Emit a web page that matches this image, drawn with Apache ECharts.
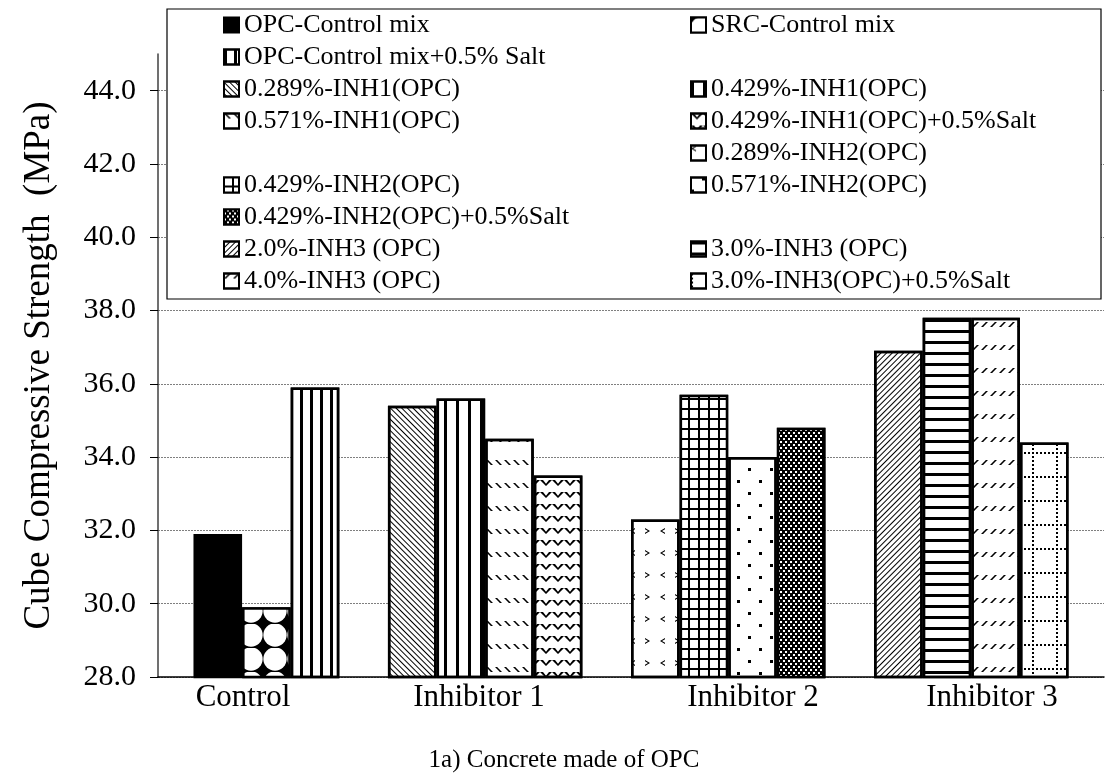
<!DOCTYPE html>
<html>
<head>
<meta charset="utf-8">
<script src="https://cdn.jsdelivr.net/npm/echarts@6/dist/echarts.min.js"></script>
<style>
  html, body { margin: 0; padding: 0; background: #fff; }
  #chart { width: 1113px; height: 778px; }
</style>
</head>
<body>
<div id="chart"></div>
<script>
// group labels under the bars
const groups = ['Control', 'Inhibitor 1', 'Inhibitor 2', 'Inhibitor 3'];

// one series per mix, blanks are the spacer slots between groups
const mixNames = [
  'OPC-Control mix', 'SRC-Control mix', 'OPC-Control mix+0.5% Salt', ' ',
  '0.289%-INH1(OPC)', '0.429%-INH1(OPC)', '0.571%-INH1(OPC)', '0.429%-INH1(OPC)+0.5%Salt', '  ',
  '0.289%-INH2(OPC)', '0.429%-INH2(OPC)', '0.571%-INH2(OPC)', '0.429%-INH2(OPC)+0.5%Salt', '   ',
  '2.0%-INH3 (OPC)', '3.0%-INH3 (OPC)', '4.0%-INH3 (OPC)', '3.0%-INH3(OPC)+0.5%Salt'
];

// cube compressive strength, MPa
const strength = [
  31.9, 29.9, 35.9, null,
  35.4, 35.6, 34.5, 33.5, null,
  32.3, 35.7, 34.0, 34.8, null,
  36.9, 37.8, 37.8, 34.4
];

const serif = '"Liberation Serif", "Times New Roman", serif';

// hatch patterns, one per mix (null = spacer)
const dec = (o) => Object.assign({ color: '#000', symbol: 'rect', symbolSize: 1, symbolKeepAspect: false }, o);
const fills = [
  { color: '#000' },
  { color: '#000', decal: dec({ symbol: 'circle', color: '#fff', dashArrayX: [[22, 2]], dashArrayY: [22, 2], symbolSize: 1.06 }) },
  { color: '#fff', decal: dec({ dashArrayX: [[3, 7]], dashArrayY: [10, 0] }) },
  null,
  { color: '#fff', decal: dec({ dashArrayX: [[10, 0]], dashArrayY: [1, 3], rotation: Math.PI / 4 }) },
  { color: '#fff', decal: dec({ dashArrayX: [[3, 9]], dashArrayY: [10, 0] }) },
  { color: '#fff', decal: dec({ symbol: 'path://M0,0L3,0L10,10L7,10Z', dashArrayX: [[7, 2]], dashArrayY: [5, 18] }) },
  { color: '#fff', decal: dec({ symbol: 'path://M0,0L2.5,0L5,5L7.5,0L10,0L5,8Z', dashArrayX: [[12, 0]], dashArrayY: [6, 6] }) },
  null,
  { color: '#fff', decal: dec({ symbol: ['path://M10,0L0,5L10,10L10,8L4,5L10,2Z', 'path://M0,0L10,5L0,10L0,8L6,5L0,2Z'], dashArrayX: [[5, 10]], dashArrayY: [6, 16] }) },
  { color: '#000', decal: dec({ color: '#fff', dashArrayX: [[8, 2]], dashArrayY: [8, 2] }) },
  { color: '#fff', decal: dec({ dashArrayX: [[3, 19], [0, 11, 3, 8]], dashArrayY: [3, 9] }) },
  { color: '#000', decal: dec({ color: '#fff', dashArrayX: [[2, 3], [0, 3, 2, 0]], dashArrayY: [2, 1] }) },
  null,
  { color: '#fff', decal: dec({ dashArrayX: [[10, 0]], dashArrayY: [1, 3], rotation: -Math.PI / 4 }) },
  { color: '#fff', decal: dec({ dashArrayX: [[10, 0]], dashArrayY: [3, 8] }) },
  { color: '#fff', decal: dec({ symbol: 'path://M7,0L10,0L3,10L0,10Z', dashArrayX: [[7, 2]], dashArrayY: [5, 18] }) },
  { color: '#fff', decal: dec({ dashArrayX: [[2, 2], [2, 22], [2, 22], [2, 22], [2, 22], [2, 22]], dashArrayY: [2, 2] }) }
];

// x centre of each group label (text boxes in the original)
const labelX = [243, 479, 753, 992];

const chart = echarts.init(document.getElementById('chart'));

const option = {
  animation: false,
  grid: { left: 158, right: 9, top: 54, bottom: 101 },
  xAxis: {
    type: 'category',
    data: ['OPC'],
    axisLine: { lineStyle: { color: '#000', width: 1.5 } },
    axisTick: { show: false },
    axisLabel: { show: false }
  },
  yAxis: {
    type: 'value',
    min: 28,
    max: 45,
    interval: 2,
    name: 'Cube Compressive Strength  (MPa)',
    nameLocation: 'middle',
    nameRotate: 90,
    nameGap: 100,
    nameTextStyle: { fontFamily: serif, fontSize: 37, color: '#000' },
    axisLine: { show: true, lineStyle: { color: '#404040', width: 1.5 } },
    axisTick: { show: true, length: 8, lineStyle: { color: '#000' } },
    axisLabel: {
      formatter: (v) => v.toFixed(1),
      showMaxLabel: false,
      fontFamily: serif,
      fontSize: 30,
      color: '#000',
      margin: 22
    },
    splitLine: {
      show: true,
      showMaxLine: false,
      lineStyle: { color: '#7f7f7f', width: 1, type: [2, 1] }
    }
  },
  legend: {
    data: mixNames,
    left: 223,
    top: 12,
    width: 930,
    padding: 0,
    itemWidth: 15,
    itemHeight: 15,
    itemGap: 6,
    icon: 'rect',
    selectedMode: false,
    textStyle: { fontFamily: serif, fontSize: 26, lineHeight: 26, color: '#000', width: 440 }
  },
  graphic: [
    {
      type: 'rect',
      z: 3,
      shape: { x: 167, y: 9, width: 934, height: 290 },
      style: { fill: '#fff', stroke: '#000', lineWidth: 1.2 }
    },
    ...groups.map((g, i) => ({
      type: 'text',
      x: labelX[i],
      y: 698,
      style: { text: g, fontFamily: serif, fontSize: 31, fill: '#000', align: 'center', verticalAlign: 'middle' }
    })),
    {
      type: 'text',
      x: 564,
      y: 760,
      style: { text: '1a) Concrete made of OPC', fontFamily: serif, fontSize: 25, fill: '#000', align: 'center', verticalAlign: 'middle' }
    }
  ],
  series: mixNames.map((name, i) => ({
    name: name,
    type: 'bar',
    barGap: '0%',
    barCategoryGap: '7.5%',
    data: [strength[i] === null ? '-' : strength[i]],
    itemStyle: fills[i]
      ? Object.assign({ borderColor: '#000', borderWidth: 2.5 }, fills[i])
      : { color: 'transparent', borderWidth: 0 },
    emphasis: { disabled: true }
  }))
};

chart.setOption(option);
</script>
</body>
</html>
